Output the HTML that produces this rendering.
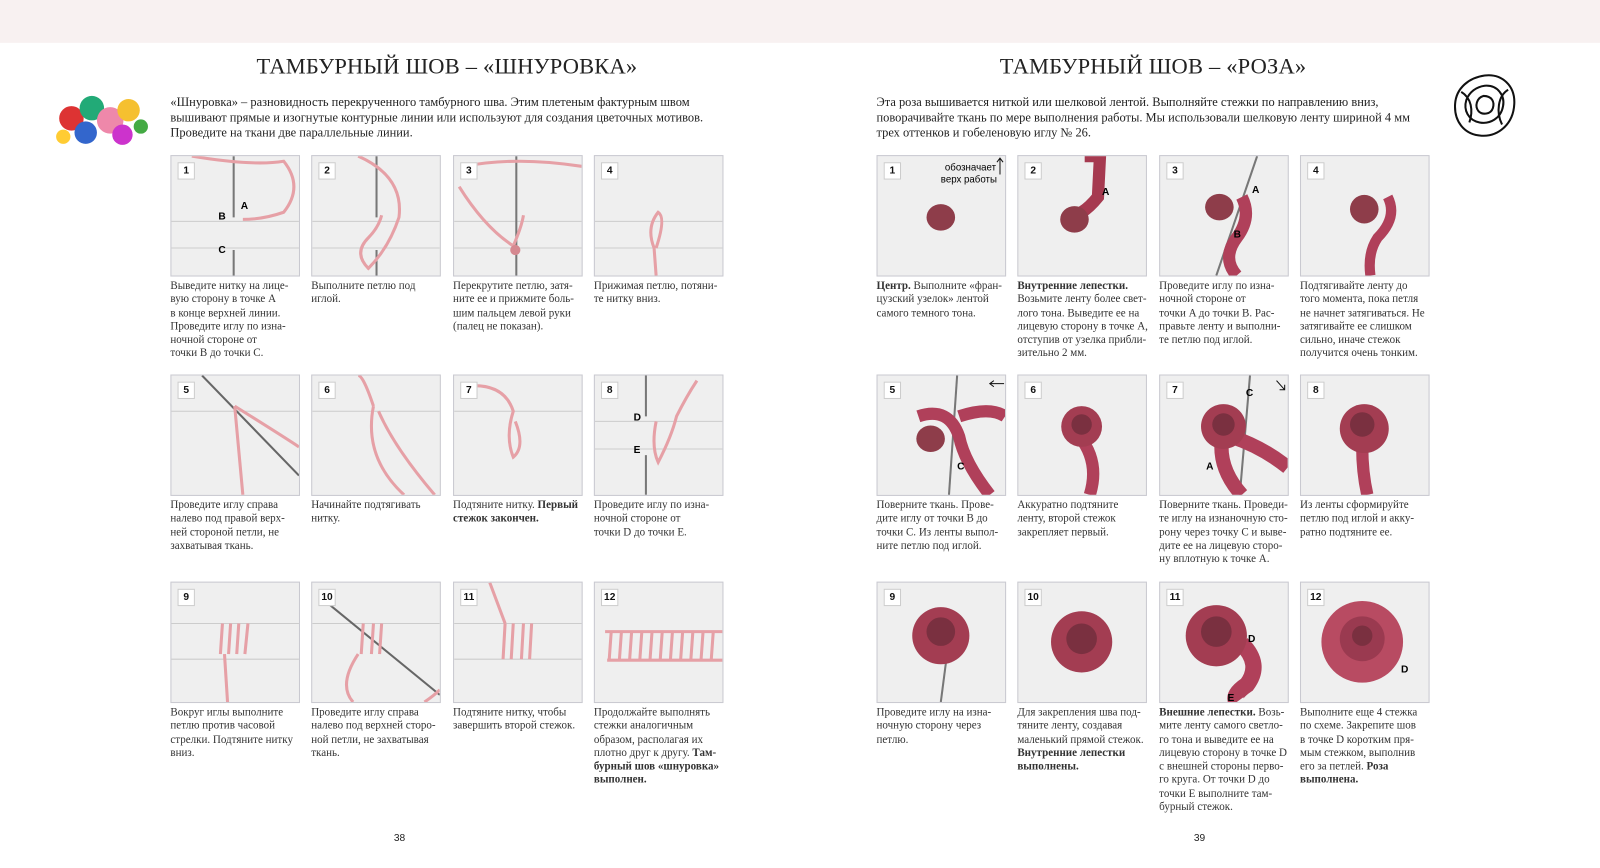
<!DOCTYPE html>
<html><head><meta charset="utf-8"><style>
body{margin:0;width:1600px;height:868px;background:#fff;position:relative;overflow:hidden;font-family:"Liberation Serif",serif;color:#222}
#w{position:absolute;left:0;top:0;width:1568px;height:851px;transform:scale(1.0204);transform-origin:0 0}
.top{position:absolute;left:0;top:0;width:1568px;height:42px;background:#f8f1f1}
.t{position:absolute;font-size:22px;letter-spacing:0.2px;white-space:nowrap;transform:translateX(-50%);top:52px}
.intro{position:absolute;font-size:12.2px;line-height:15px;white-space:nowrap}
.p{position:absolute;width:125px;height:117px;background:#efefef;border:1px solid #c9c9d0;overflow:hidden}
.p svg{position:absolute;left:0;top:0}
.n{position:absolute;left:6px;top:6px;width:15px;height:15px;background:#fff;border:1px solid #ccc;font:bold 10px "Liberation Sans",sans-serif;text-align:center;line-height:15px;color:#111}
.c{position:absolute;font-size:10.8px;line-height:13.3px;white-space:nowrap;color:#333}
.pg{position:absolute;font:10px "Liberation Sans",sans-serif;top:816px}
</style></head><body><div id="w">
<div class="top"></div>
<div class="t" style="left:438px">ТАМБУРНЫЙ ШОВ – «ШНУРОВКА»</div>
<div class="t" style="left:1130px">ТАМБУРНЫЙ ШОВ – «РОЗА»</div>
<div class="intro" style="left:167px;top:93px">«Шнуровка» – разновидность перекрученного тамбурного шва. Этим плетеным фактурным швом<br>вышивают прямые и изогнутые контурные линии или используют для создания цветочных мотивов.<br>Проведите на ткани две параллельные линии.</div>
<div class="intro" style="left:859px;top:93px">Эта роза вышивается ниткой или шелковой лентой. Выполняйте стежки по направлению вниз,<br>поворачивайте ткань по мере выполнения работы. Мы использовали шелковую ленту шириной 4 мм<br>трех оттенков и гобеленовую иглу № 26.</div>

<svg style="position:absolute;left:50px;top:86px" width="96" height="60">
<circle cx="20" cy="30" r="12" fill="#d33"/><circle cx="40" cy="20" r="12" fill="#2a7"/><circle cx="58" cy="32" r="13" fill="#e8a"/><circle cx="76" cy="22" r="11" fill="#f5c030"/><circle cx="34" cy="44" r="11" fill="#36c"/><circle cx="70" cy="46" r="10" fill="#c3c"/><circle cx="12" cy="48" r="7" fill="#fc3"/><circle cx="88" cy="38" r="7" fill="#4a4"/></svg>
<svg style="position:absolute;left:1422px;top:70px" width="66" height="68" fill="none" stroke="#111" stroke-width="2">
<path d="M33 4C50 2 63 14 62 32C61 52 46 64 30 63C12 62 3 48 4 32C5 16 18 6 33 4Z"/><path d="M33 14C46 13 53 24 51 34C49 46 38 52 28 50C17 48 12 38 15 28C18 20 25 15 33 14Z"/><path d="M32 24C40 24 43 30 41 36C39 42 31 43 27 39C23 34 25 26 32 24Z"/><path d="M10 20C20 26 22 38 18 50M56 18C46 24 44 40 50 52"/></svg>

<div class="p" style="left:167px;top:152px"><svg width="125" height="117"><line x1="0" y1="64" x2="125" y2="64" stroke="#ccc"/><line x1="0" y1="90" x2="125" y2="90" stroke="#ccc"/><line x1="61" y1="0" x2="61" y2="60" stroke="#777" stroke-width="2"/><line x1="61" y1="92" x2="61" y2="117" stroke="#777" stroke-width="2"/><path d="M20 0Q80 10 110 5Q130 30 110 55Q90 62 70 62" stroke="#e6a0a6" stroke-width="3" fill="none"/><text x="68" y="52" font-size="10" font-family="Liberation Sans" font-weight="bold">A</text><text x="46" y="62" font-size="10" font-family="Liberation Sans" font-weight="bold">B</text><text x="46" y="95" font-size="10" font-family="Liberation Sans" font-weight="bold">C</text></svg><div class="n">1</div></div>
<div class="p" style="left:305px;top:152px"><svg width="125" height="117"><line x1="0" y1="64" x2="125" y2="64" stroke="#ccc"/><line x1="0" y1="90" x2="125" y2="90" stroke="#ccc"/><line x1="63" y1="0" x2="63" y2="60" stroke="#777" stroke-width="2"/><line x1="63" y1="92" x2="63" y2="117" stroke="#777" stroke-width="2"/><path d="M45 0Q90 20 85 60Q75 90 55 110Q40 95 55 80Q65 70 68 58" stroke="#e6a0a6" stroke-width="3" fill="none"/></svg><div class="n">2</div></div>
<div class="p" style="left:444px;top:152px"><svg width="125" height="117"><line x1="0" y1="64" x2="125" y2="64" stroke="#ccc"/><line x1="0" y1="90" x2="125" y2="90" stroke="#ccc"/><line x1="61" y1="0" x2="61" y2="117" stroke="#777" stroke-width="2"/><path d="M10 10Q60 0 125 10M5 30Q30 70 58 88Q66 70 68 58" stroke="#e6a0a6" stroke-width="3" fill="none"/><circle cx="60" cy="92" r="5" fill="#d58890"/></svg><div class="n">3</div></div>
<div class="p" style="left:582px;top:152px"><svg width="125" height="117"><line x1="0" y1="64" x2="125" y2="64" stroke="#ccc"/><line x1="0" y1="90" x2="125" y2="90" stroke="#ccc"/><path d="M60 117L58 90Q50 70 62 55Q70 60 60 90" stroke="#e6a0a6" stroke-width="3" fill="none"/></svg><div class="n">4</div></div>

<div class="p" style="left:167px;top:367px"><svg width="125" height="117"><line x1="0" y1="35" x2="125" y2="35" stroke="#ccc"/><line x1="30" y1="0" x2="125" y2="98" stroke="#666" stroke-width="2"/><path d="M62 30L70 117M62 30Q110 60 125 70" stroke="#e6a0a6" stroke-width="3" fill="none"/></svg><div class="n">5</div></div>
<div class="p" style="left:305px;top:367px"><svg width="125" height="117"><line x1="0" y1="35" x2="125" y2="35" stroke="#ccc"/><path d="M60 30Q50 80 90 117M65 35Q80 70 120 117M60 30Q50 0 45 0" stroke="#e6a0a6" stroke-width="3" fill="none"/></svg><div class="n">6</div></div>
<div class="p" style="left:444px;top:367px"><svg width="125" height="117"><line x1="0" y1="35" x2="125" y2="35" stroke="#ccc"/><path d="M20 10Q50 10 58 35Q50 60 58 80Q70 70 60 45" stroke="#e6a0a6" stroke-width="3" fill="none"/></svg><div class="n">7</div></div>
<div class="p" style="left:582px;top:367px"><svg width="125" height="117"><line x1="0" y1="45" x2="125" y2="45" stroke="#ccc"/><line x1="0" y1="72" x2="125" y2="72" stroke="#ccc"/><line x1="50" y1="0" x2="50" y2="40" stroke="#777" stroke-width="2"/><line x1="50" y1="78" x2="50" y2="117" stroke="#777" stroke-width="2"/><path d="M60 45Q55 70 62 85Q75 60 80 40Q90 20 100 5" stroke="#e6a0a6" stroke-width="3" fill="none"/><text x="38" y="44" font-size="10" font-family="Liberation Sans" font-weight="bold">D</text><text x="38" y="76" font-size="10" font-family="Liberation Sans" font-weight="bold">E</text></svg><div class="n">8</div></div>

<div class="p" style="left:167px;top:570px"><svg width="125" height="117"><line x1="0" y1="40" x2="125" y2="40" stroke="#ccc"/><line x1="0" y1="75" x2="125" y2="75" stroke="#ccc"/><path d="M50 40L48 70M58 40L56 70M66 40L64 70M75 40L72 70M55 117L52 70" stroke="#e6a0a6" stroke-width="3" fill="none"/></svg><div class="n">9</div></div>
<div class="p" style="left:305px;top:570px"><svg width="125" height="117"><line x1="0" y1="40" x2="125" y2="40" stroke="#ccc"/><line x1="15" y1="20" x2="125" y2="110" stroke="#666" stroke-width="2"/><path d="M50 40L48 70M60 40L58 70M68 40L66 70M45 70Q25 100 40 117M110 117Q120 110 125 105" stroke="#e6a0a6" stroke-width="3" fill="none"/></svg><div class="n">10</div></div>
<div class="p" style="left:444px;top:570px"><svg width="125" height="117"><line x1="0" y1="40" x2="125" y2="40" stroke="#ccc"/><line x1="0" y1="75" x2="125" y2="75" stroke="#ccc"/><path d="M35 0L50 40M50 40L48 75M58 40L56 75M68 40L66 75M76 40L74 75" stroke="#e6a0a6" stroke-width="3" fill="none"/></svg><div class="n">11</div></div>
<div class="p" style="left:582px;top:570px"><svg width="125" height="117"><g stroke="#e6a0a6" stroke-width="3" fill="none"><path d="M10 48H125M12 76H125"/><path d="M16 48L14 76M26 48L24 76M36 48L34 76M46 48L44 76M56 48L54 76M66 48L64 76M76 48L74 76M86 48L84 76M96 48L94 76M106 48L104 76M116 48L114 76"/></g></svg><div class="n">12</div></div>

<div class="p" style="left:859px;top:152px"><svg width="125" height="117"><ellipse cx="62" cy="60" rx="14" ry="13" fill="#8e3d4a"/><path d="M120 18V2M117 6L120 2L123 6" stroke="#111" fill="none"/><text x="66" y="14" font-size="9.5" font-family="Liberation Sans">обозначает</text><text x="62" y="26" font-size="9.5" font-family="Liberation Sans">верх работы</text></svg><div class="n">1</div></div>
<div class="p" style="left:997px;top:152px"><svg width="125" height="117"><path d="M65 0H80L78 40Q70 50 62 55" stroke="#a63a50" stroke-width="12" fill="none"/><ellipse cx="55" cy="62" rx="14" ry="13" fill="#8e3d4a"/><text x="82" y="38" font-size="10" font-family="Liberation Sans" font-weight="bold">A</text></svg><div class="n">2</div></div>
<div class="p" style="left:1136px;top:152px"><svg width="125" height="117"><line x1="95" y1="0" x2="55" y2="117" stroke="#777" stroke-width="2"/><path d="M80 40Q90 60 75 80Q60 100 75 117" stroke="#b0405a" stroke-width="12" fill="none"/><ellipse cx="58" cy="50" rx="14" ry="13" fill="#8e3d4a"/><text x="90" y="36" font-size="10" font-family="Liberation Sans" font-weight="bold">A</text><text x="72" y="80" font-size="10" font-family="Liberation Sans" font-weight="bold">B</text></svg><div class="n">3</div></div>
<div class="p" style="left:1274px;top:152px"><svg width="125" height="117"><path d="M85 40Q95 60 75 80Q65 95 68 117" stroke="#b0405a" stroke-width="10" fill="none"/><ellipse cx="62" cy="52" rx="14" ry="14" fill="#8e3d4a"/></svg><div class="n">4</div></div>

<div class="p" style="left:859px;top:367px"><svg width="125" height="117"><line x1="78" y1="0" x2="70" y2="117" stroke="#777" stroke-width="2"/><path d="M40 40Q70 30 80 60Q85 85 110 117M80 40Q110 30 125 40" stroke="#b0405a" stroke-width="12" fill="none"/><ellipse cx="52" cy="62" rx="14" ry="13" fill="#8e3d4a"/><path d="M124 8H110M114 5L110 8L114 11" stroke="#111" fill="none"/><text x="78" y="92" font-size="10" font-family="Liberation Sans" font-weight="bold">C</text></svg><div class="n">5</div></div>
<div class="p" style="left:997px;top:367px"><svg width="125" height="117"><path d="M60 60Q80 85 70 117" stroke="#b0405a" stroke-width="12" fill="none"/><circle cx="62" cy="50" r="20" fill="#a33d52"/><circle cx="62" cy="48" r="10" fill="#7a3040"/></svg><div class="n">6</div></div>
<div class="p" style="left:1136px;top:367px"><svg width="125" height="117"><line x1="88" y1="0" x2="78" y2="117" stroke="#777" stroke-width="2"/><path d="M60 70Q60 95 80 117M70 60Q100 70 125 90" stroke="#b0405a" stroke-width="14" fill="none"/><circle cx="62" cy="50" r="22" fill="#a33d52"/><circle cx="62" cy="48" r="11" fill="#7a3040"/><path d="M114 5L122 14M122 9V14H117" stroke="#111" fill="none"/><text x="84" y="20" font-size="10" font-family="Liberation Sans" font-weight="bold">C</text><text x="45" y="92" font-size="10" font-family="Liberation Sans" font-weight="bold">A</text></svg><div class="n">7</div></div>
<div class="p" style="left:1274px;top:367px"><svg width="125" height="117"><path d="M60 70Q60 95 65 117" stroke="#b0405a" stroke-width="12" fill="none"/><circle cx="62" cy="52" r="24" fill="#a33d52"/><circle cx="60" cy="48" r="12" fill="#7a3040"/></svg><div class="n">8</div></div>

<div class="p" style="left:859px;top:570px"><svg width="125" height="117"><line x1="72" y1="40" x2="62" y2="117" stroke="#777" stroke-width="2"/><circle cx="62" cy="52" r="28" fill="#a33d52"/><circle cx="62" cy="48" r="14" fill="#7a3040"/></svg><div class="n">9</div></div>
<div class="p" style="left:997px;top:570px"><svg width="125" height="117"><circle cx="62" cy="58" r="30" fill="#a33d52"/><circle cx="62" cy="55" r="15" fill="#7a3040"/></svg><div class="n">10</div></div>
<div class="p" style="left:1136px;top:570px"><svg width="125" height="117"><path d="M80 60Q100 80 85 100Q70 110 75 117" stroke="#b0405a" stroke-width="16" fill="none"/><circle cx="55" cy="52" r="30" fill="#a33d52"/><circle cx="55" cy="48" r="15" fill="#7a3040"/><text x="86" y="58" font-size="10" font-family="Liberation Sans" font-weight="bold">D</text><text x="66" y="116" font-size="10" font-family="Liberation Sans" font-weight="bold">E</text></svg><div class="n">11</div></div>
<div class="p" style="left:1274px;top:570px"><svg width="125" height="117"><circle cx="60" cy="58" r="40" fill="#b84b62"/><circle cx="60" cy="55" r="22" fill="#9a3a50"/><circle cx="60" cy="52" r="10" fill="#7a3040"/><text x="98" y="88" font-size="10" font-family="Liberation Sans" font-weight="bold">D</text></svg><div class="n">12</div></div>

<div class="c" style="left:167px;top:274px">Выведите нитку на лице-<br>вую сторону в точке A<br>в конце верхней линии.<br>Проведите иглу по изна-<br>ночной стороне от<br>точки B до точки C.</div>
<div class="c" style="left:305px;top:274px">Выполните петлю под<br>иглой.</div>
<div class="c" style="left:444px;top:274px">Перекрутите петлю, затя-<br>ните ее и прижмите боль-<br>шим пальцем левой руки<br>(палец не показан).</div>
<div class="c" style="left:582px;top:274px">Прижимая петлю, потяни-<br>те нитку вниз.</div>
<div class="c" style="left:167px;top:489px">Проведите иглу справа<br>налево под правой верх-<br>ней стороной петли, не<br>захватывая ткань.</div>
<div class="c" style="left:305px;top:489px">Начинайте подтягивать<br>нитку.</div>
<div class="c" style="left:444px;top:489px">Подтяните нитку. <b>Первый<br>стежок закончен.</b></div>
<div class="c" style="left:582px;top:489px">Проведите иглу по изна-<br>ночной стороне от<br>точки D до точки E.</div>
<div class="c" style="left:167px;top:692px">Вокруг иглы выполните<br>петлю против часовой<br>стрелки. Подтяните нитку<br>вниз.</div>
<div class="c" style="left:305px;top:692px">Проведите иглу справа<br>налево под верхней сторо-<br>ной петли, не захватывая<br>ткань.</div>
<div class="c" style="left:444px;top:692px">Подтяните нитку, чтобы<br>завершить второй стежок.</div>
<div class="c" style="left:582px;top:692px">Продолжайте выполнять<br>стежки аналогичным<br>образом, располагая их<br>плотно друг к другу. <b>Там-<br>бурный шов «шнуровка»<br>выполнен.</b></div>

<div class="c" style="left:859px;top:274px"><b>Центр.</b> Выполните «фран-<br>цузский узелок» лентой<br>самого темного тона.</div>
<div class="c" style="left:997px;top:274px"><b>Внутренние лепестки.</b><br>Возьмите ленту более свет-<br>лого тона. Выведите ее на<br>лицевую сторону в точке A,<br>отступив от узелка прибли-<br>зительно 2 мм.</div>
<div class="c" style="left:1136px;top:274px">Проведите иглу по изна-<br>ночной стороне от<br>точки A до точки B. Рас-<br>правьте ленту и выполни-<br>те петлю под иглой.</div>
<div class="c" style="left:1274px;top:274px">Подтягивайте ленту до<br>того момента, пока петля<br>не начнет затягиваться. Не<br>затягивайте ее слишком<br>сильно, иначе стежок<br>получится очень тонким.</div>
<div class="c" style="left:859px;top:489px">Поверните ткань. Прове-<br>дите иглу от точки B до<br>точки C. Из ленты выпол-<br>ните петлю под иглой.</div>
<div class="c" style="left:997px;top:489px">Аккуратно подтяните<br>ленту, второй стежок<br>закрепляет первый.</div>
<div class="c" style="left:1136px;top:489px">Поверните ткань. Проведи-<br>те иглу на изнаночную сто-<br>рону через точку C и выве-<br>дите ее на лицевую сторо-<br>ну вплотную к точке A.</div>
<div class="c" style="left:1274px;top:489px">Из ленты сформируйте<br>петлю под иглой и акку-<br>ратно подтяните ее.</div>
<div class="c" style="left:859px;top:692px">Проведите иглу на изна-<br>ночную сторону через<br>петлю.</div>
<div class="c" style="left:997px;top:692px">Для закрепления шва под-<br>тяните ленту, создавая<br>маленький прямой стежок.<br><b>Внутренние лепестки<br>выполнены.</b></div>
<div class="c" style="left:1136px;top:692px"><b>Внешние лепестки.</b> Возь-<br>мите ленту самого светло-<br>го тона и выведите ее на<br>лицевую сторону в точке D<br>с внешней стороны перво-<br>го круга. От точки D до<br>точки E выполните там-<br>бурный стежок.</div>
<div class="c" style="left:1274px;top:692px">Выполните еще 4 стежка<br>по схеме. Закрепите шов<br>в точке D коротким пря-<br>мым стежком, выполнив<br>его за петлей. <b>Роза<br>выполнена.</b></div>

<div class="pg" style="left:386px">38</div>
<div class="pg" style="left:1170px">39</div>
</div></body></html>
